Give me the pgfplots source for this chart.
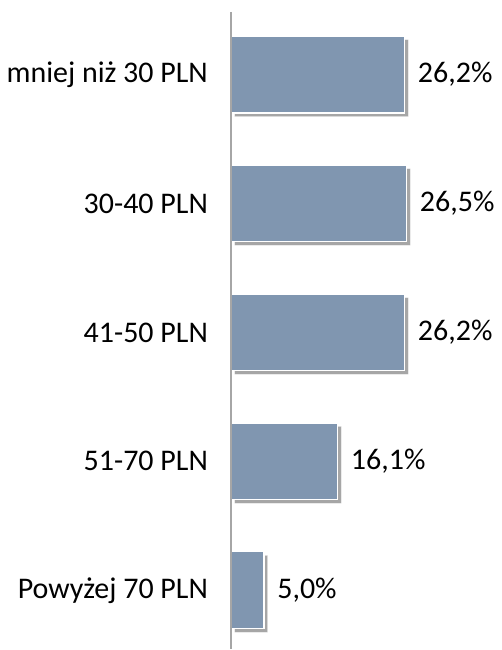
\documentclass[border=0pt]{standalone}
\usepackage{pgfplots}
\pgfplotsset{compat=1.18}
\usepackage{fontspec}
\setmainfont{Carlito}
\usetikzlibrary{shadows}
\definecolor{barblue}{RGB}{128,150,176}
\definecolor{axisgray}{RGB}{166,166,166}
\begin{document}
\begin{tikzpicture}
\begin{axis}[
  xbar,
  axis on top,
  scale only axis,
  width=135.5pt, height=319pt,
  xmin=0, xmax=40.8,
  ymin=-0.4845, ymax=4.457,
  y dir=reverse,
  ytick={0,1,2,3,4},
  yticklabels={mniej niż 30 PLN,30-40 PLN,41-50 PLN,51-70 PLN,Powyżej 70 PLN},
  yticklabel style={font=\fontsize{15}{18}\selectfont, xshift=-8pt},
  major tick length=0pt,
  xtick=\empty,
  axis x line=none,
  axis y line*=left,
  y axis line style={draw=axisgray, line width=0.75pt, -},
  bar width=38.5pt,
  clip=false,
  nodes near coords={\pgfmathprintnumber[fixed,fixed zerofill,precision=1,use comma,assume math mode=true]{\pgfplotspointmeta}\%},
  nodes near coords align={horizontal},
  every node near coord/.append style={font=\fontsize{15}{18}\selectfont, black, xshift=3pt},
]
\addplot[fill=barblue, draw=white, line width=0.6pt,
  drop shadow={shadow xshift=1.8pt, shadow yshift=-1.8pt, opacity=0.35, fill=black}]
  coordinates {(26.2,0) (26.5,1) (26.2,2) (16.1,3) (5.0,4)};
\end{axis}
\path (current axis.north west) ++(0,6pt);
\end{tikzpicture}
\end{document}
